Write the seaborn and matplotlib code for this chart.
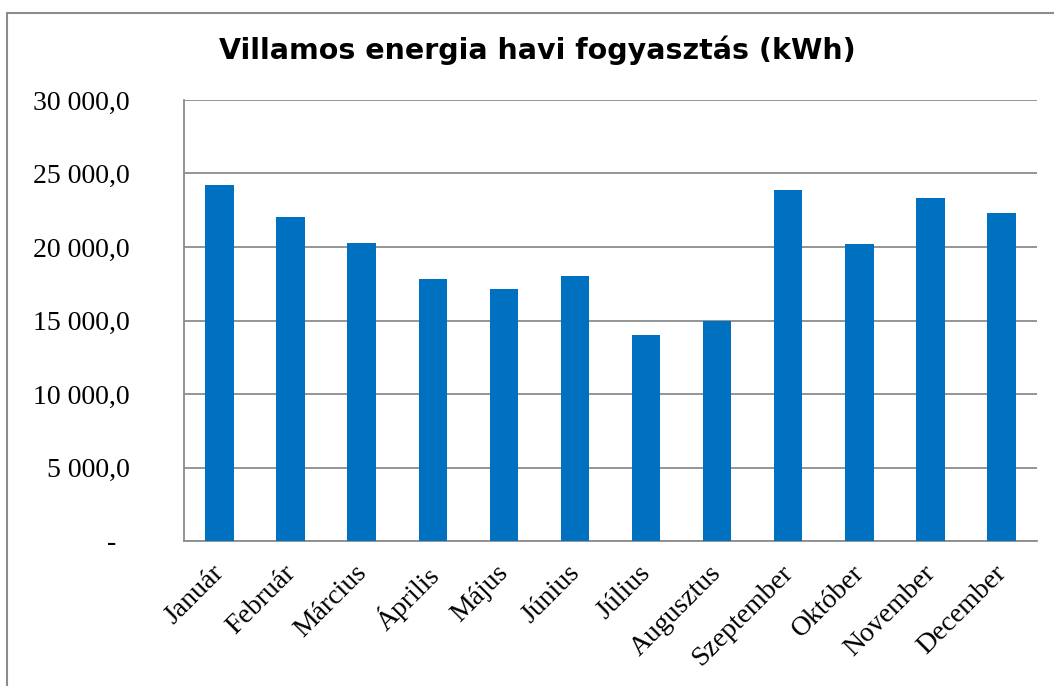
import matplotlib
matplotlib.use("Agg")
import matplotlib.pyplot as plt
import matplotlib.transforms as mtransforms
import seaborn as sns
import pandas as pd
from matplotlib.lines import Line2D

# --- Data ---
months = ['Január', 'Február', 'Március', 'Április', 'Május', 'Június',
          'Július', 'Augusztus', 'Szeptember', 'Október', 'November', 'December']
consumption = [24200, 22050, 20250, 17800, 17150, 18000,
               14000, 14950, 23850, 20200, 23350, 22300]
ytick_values = [0, 5000, 10000, 15000, 20000, 25000, 30000]
ytick_labels = ['-  ', '5 000,0', '10 000,0', '15 000,0', '20 000,0', '25 000,0', '30 000,0']

df = pd.DataFrame({'Month': months, 'kWh': consumption})

# --- Plotting ---
sns.set_style("white")
grid_col = '#8c8c8c'

fig = plt.figure(figsize=(10.54, 6.86), dpi=100)
ax = fig.add_axes([184 / 1054, 1 - 541 / 686, (1037 - 184) / 1054, (541 - 100) / 686])

sns.barplot(data=df, x='Month', y='kWh', color='#0070C0', width=0.4,
            saturation=1, linewidth=0, ax=ax, zorder=3)

ax.set_xlim(-0.5, len(months) - 0.5)
ax.set_ylim(0, 30000)
ax.set_yticks(ytick_values)
ax.set_yticklabels(ytick_labels, family='Liberation Serif', fontsize=20, color='black')
ax.yaxis.grid(True, color=grid_col, linewidth=1.3, zorder=0)
ax.set_axisbelow(True)

# category labels, tick marks between categories
ax.set_xticks(range(len(months)))
ax.set_xticklabels(months, rotation=45, ha='right', rotation_mode='anchor',
                   family='Liberation Serif', fontsize=20, color='black')
ax.set_xticks([i - 0.5 for i in range(len(months) + 1)], minor=True)
ax.tick_params(axis='x', which='major', length=0, pad=14)
ax.tick_params(axis='x', which='minor', length=6, width=1.3, color=grid_col, direction='out')
ax.tick_params(axis='y', length=6, width=1.3, color=grid_col, direction='out', pad=33)

# nudge rotated month labels a little to the left
shift = mtransforms.ScaledTranslation(-0.08, 0, fig.dpi_scale_trans)
for lbl in ax.xaxis.get_majorticklabels():
    lbl.set_transform(lbl.get_transform() + shift)

for side in ['top', 'right']:
    ax.spines[side].set_visible(False)
for side in ['left', 'bottom']:
    ax.spines[side].set_color(grid_col)
    ax.spines[side].set_linewidth(1.3)

ax.set_xlabel('')
ax.set_ylabel('')

fig.text(0.5095, 1 - 50 / 686, 'Villamos energia havi fogyasztás (kWh)',
         ha='center', va='center', fontsize=20.5, fontweight='bold',
         family='DejaVu Sans', color='black')

# outer chart frame (left and top edges visible)
fig.add_artist(Line2D([7 / 1054, 7 / 1054], [0, 1 - 13 / 686], color=grid_col, lw=1.5))
fig.add_artist(Line2D([7 / 1054, 1], [1 - 13 / 686, 1 - 13 / 686], color=grid_col, lw=1.5))

fig.savefig('out.png', dpi=100)
